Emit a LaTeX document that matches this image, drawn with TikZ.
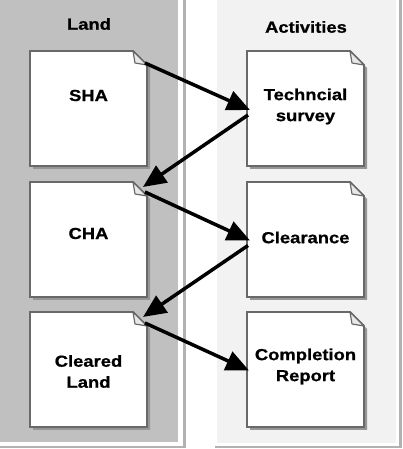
\documentclass[tikz,border=0pt]{standalone}
\usepackage{fontspec}
\setmainfont[FakeStretch=1.15,BoldFeatures={FakeBold=0.8}]{Liberation Sans}
\usetikzlibrary{arrows.meta}

\definecolor{lanedark}{RGB}{192,192,192}
\definecolor{lanelight}{RGB}{242,242,242}
\definecolor{laneframe}{RGB}{178,178,178}
\definecolor{cardedge}{RGB}{105,105,105}
\definecolor{cardshadow}{RGB}{150,150,150}
\definecolor{foldfill}{RGB}{232,232,232}

\tikzset{
  card/.style={minimum width=117pt, minimum height=115pt, inner sep=0pt, outer sep=0pt, anchor=north west},
  cardtext/.style={font=\fontsize{16}{21}\selectfont\bfseries, align=center, inner sep=0pt},
  heading/.style={font=\fontsize{16}{21}\selectfont\bfseries, inner sep=0pt},
  flow/.style={line width=3.5pt, -{Triangle[length=23pt,width=20pt]}},
}

\begin{document}
\begin{tikzpicture}[x=1pt,y=1pt]
    \useasboundingbox (0,0) rectangle (403,449);

    % 绘制泳道
    \fill[lanedark] (0,7) rectangle (178,449);
    \fill[lanelight] (217,6) rectangle (396,449);
    \draw[laneframe, line width=2.5pt] (184.5,449) -- (184.5,2) -- (0,2);
    \draw[laneframe, line width=2.5pt] (400.5,449) -- (400.5,2) -- (215,2);

    % 泳道标题
    \node[heading] (landtitle) at (89,425) {Land};
    \node[heading] (acttitle) at (306,422) {Activities};

    % 卡片位置
    \node[card] (sha) at (30,398) {};
    \node[card] (cha) at (30,267) {};
    \node[card] (cleared) at (30,137) {};
    \node[card] (survey) at (247,398) {};
    \node[card] (clearance) at (247,267) {};
    \node[card] (report) at (247,137) {};

    % 绘制卡片（阴影、折角）
    \foreach \c in {sha,cha,cleared,survey,clearance,report} {
        \fill[cardshadow] ([shift={(3pt,-3pt)}]\c.south west) -- ([shift={(3pt,-3pt)}]\c.north west)
            -- ([shift={(-11pt,-3pt)}]\c.north east) -- ([shift={(3pt,-17pt)}]\c.north east)
            -- ([shift={(3pt,-3pt)}]\c.south east) -- cycle;
        \draw[cardedge, line width=1.8pt, fill=white] (\c.south west) -- (\c.north west)
            -- ([xshift=-14pt]\c.north east) -- ([yshift=-14pt]\c.north east)
            -- (\c.south east) -- cycle;
        \draw[cardedge, line width=1.2pt, fill=foldfill, line join=round] ([xshift=-14pt]\c.north east)
            -- ([xshift=-12pt,yshift=-12pt]\c.north east) -- ([yshift=-14pt]\c.north east) -- cycle;
    }

    % 卡片文字
    \node[cardtext] (shatext) at ([yshift=13pt]sha.center) {SHA};
    \node[cardtext] (chatext) at ([yshift=6pt]cha.center) {CHA};
    \node[cardtext] (clearedtext) at ([yshift=-2pt]cleared.center) {Cleared\\Land};
    \node[cardtext] (surveytext) at ([yshift=2pt]survey.center) {Techncial\\survey};
    \node[cardtext] (clearancetext) at ([yshift=2pt]clearance.center) {Clearance};
    \node[cardtext] (reporttext) at ([yshift=3pt]report.center) {Completion\\Report};

    % 流程箭头
    \draw[flow] ([xshift=-2pt,yshift=-12pt]sha.north east) -- ([xshift=3pt,yshift=-1.5pt]survey.west);
    \draw[flow] ([xshift=1pt,yshift=-6.5pt]survey.west) -- ([xshift=-4pt,yshift=-5pt]cha.north east);
    \draw[flow] ([xshift=-2pt,yshift=-10pt]cha.north east) -- ([xshift=3pt,yshift=-1pt]clearance.west);
    \draw[flow] ([xshift=1pt,yshift=-6pt]clearance.west) -- ([xshift=-4pt,yshift=-5pt]cleared.north east);
    \draw[flow] ([xshift=-2pt,yshift=-11pt]cleared.north east) -- ([xshift=2pt,yshift=-1pt]report.west);
\end{tikzpicture}
\end{document}
